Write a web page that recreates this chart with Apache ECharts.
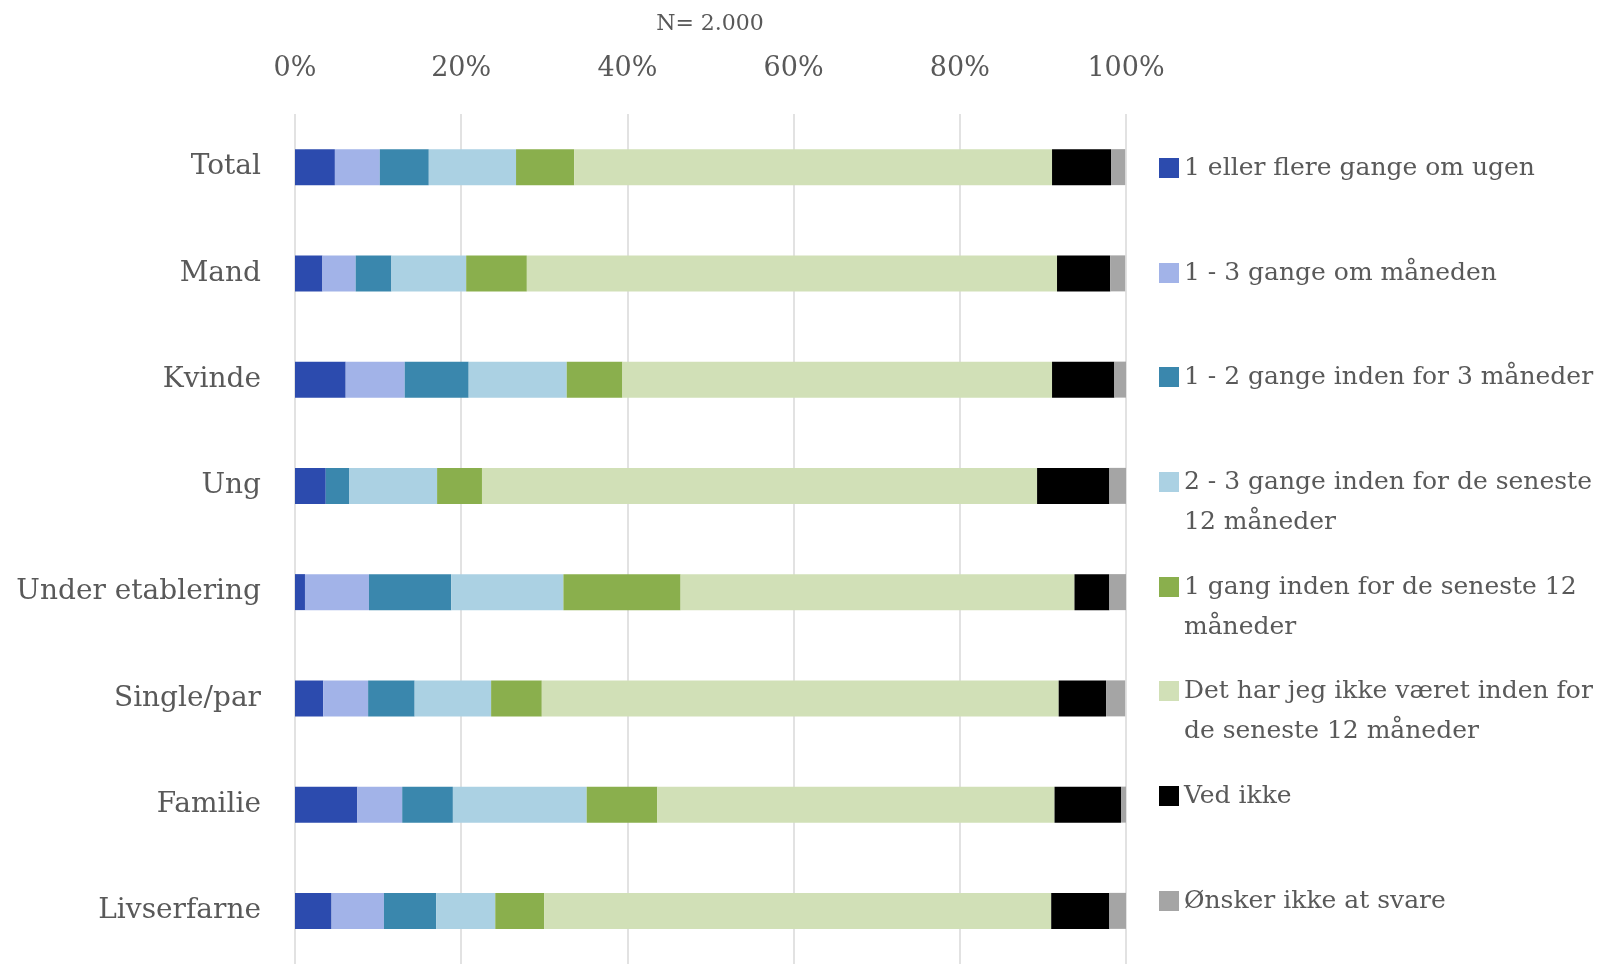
<!DOCTYPE html>
<html>
<head>
<meta charset="utf-8">
<script src="https://cdn.jsdelivr.net/npm/echarts@6/dist/echarts.min.js"></script>
<style>
  html, body { margin: 0; padding: 0; background: #fff; }
  #main { width: 1604px; height: 964px; }
</style>
</head>
<body>
<div id="main"></div>
<script>
var categories = ['Total', 'Mand', 'Kvinde', 'Ung', 'Under etablering', 'Single/par', 'Familie', 'Livserfarne']
var seriesNames = [
  '1 eller flere gange om ugen',
  '1 - 3 gange om måneden',
  '1 - 2 gange inden for 3 måneder',
  '2 - 3 gange inden for de seneste 12 måneder',
  '1 gang inden for de seneste 12 måneder',
  'Det har jeg ikke været inden for de seneste 12 måneder',
  'Ved ikke',
  'Ønsker ikke at svare'
]
var legendLabels = [
  '1 eller flere gange om ugen',
  '1 - 3 gange om måneden',
  '1 - 2 gange inden for 3 måneder',
  '2 - 3 gange inden for de seneste\n12 måneder',
  '1 gang inden for de seneste 12\nmåneder',
  'Det har jeg ikke været inden for\nde seneste 12 måneder',
  'Ved ikke',
  'Ønsker ikke at svare'
]
var colors = ['#2c4bae', '#a2b3e8', '#3a87ad', '#abd1e3', '#8aaf4d', '#d1e0b7', '#000000', '#a5a5a5']

// percentages per category (Total .. Livserfarne)
var ugen = [4.8, 3.3, 6.1, 3.7, 1.2, 3.4, 7.5, 4.4]
var maaned = [5.4, 4.0, 7.1, 0, 7.7, 5.4, 5.4, 6.3]
var treMaaneder = [5.9, 4.3, 7.7, 2.8, 9.9, 5.6, 6.1, 6.3]
var toTreGange = [10.5, 9.0, 11.8, 10.6, 13.5, 9.2, 16.1, 7.1]
var enGang = [7.0, 7.3, 6.7, 5.4, 14.1, 6.1, 8.5, 5.9]
var ikkeVaeret = [57.5, 63.8, 51.7, 66.8, 47.4, 62.2, 47.8, 61.0]
var vedIkke = [7.1, 6.4, 7.5, 8.7, 4.2, 5.7, 8.0, 7.0]
var oensker = [1.7, 1.8, 1.4, 2.0, 2.0, 2.3, 0.6, 2.0]
var xTicks = [0, 20, 40, 60, 80, 100]

var allData = [ugen, maaned, treMaaneder, toTreGange, enGang, ikkeVaeret, vedIkke, oensker]
var font = 'DejaVu Serif'
var grey = '#595959'

var series = []
for (var i = 0; i < allData.length; i++) {
  series.push({
    name: seriesNames[i],
    type: 'bar',
    stack: 'total',
    barWidth: 36,
    itemStyle: { color: colors[i] },
    data: allData[i]
  })
}

// one legend per item so the spacing is even and the icon sits on the first line
// (an empty first line pushes the wrapped text down so line 1 lines up with the icon)
var iconCenters = [168, 273, 377, 482, 587, 691, 796, 901]
var legends = []
for (var j = 0; j < seriesNames.length; j++) {
  var twoLines = legendLabels[j].indexOf('\n') >= 0
  legends.push({
    data: [seriesNames[j]],
    left: 1159,
    top: iconCenters[j] - (twoLines ? 60 : 20),
    padding: 0,
    itemWidth: 20,
    itemHeight: 20,
    icon: 'rect',
    selectedMode: false,
    formatter: (function (lbl, two) {
      return function () { return two ? '\n' + lbl : lbl }
    })(legendLabels[j], twoLines),
    textStyle: {
      fontFamily: font,
      fontSize: 25,
      color: grey,
      lineHeight: 40
    }
  })
}

var myChart = echarts.init(document.getElementById('main'))
var option = {
  animation: false,
  title: {
    text: 'N= 2.000',
    left: 705,
    textAlign: 'center',
    top: 8,
    textStyle: { fontFamily: font, fontSize: 22, fontWeight: 'normal', color: grey }
  },
  legend: legends,
  grid: { left: 295, right: 478, top: 114, height: 853 },
  xAxis: {
    type: 'value',
    position: 'top',
    min: 0,
    max: 100,
    interval: 20,
    axisLine: { show: false },
    axisTick: { show: false },
    axisLabel: {
      margin: 32,
      fontFamily: font,
      fontSize: 27,
      color: grey,
      formatter: function (v) { return xTicks.indexOf(v) >= 0 ? v + '%' : '' }
    },
    splitLine: { lineStyle: { color: '#d9d9d9', width: 1.5 } }
  },
  yAxis: {
    type: 'category',
    inverse: true,
    data: categories,
    axisLine: { show: false },
    axisTick: { show: false },
    axisLabel: { margin: 34, fontFamily: font, fontSize: 28, color: grey }
  },
  series: series
}
myChart.setOption(option)
</script>
</body>
</html>
